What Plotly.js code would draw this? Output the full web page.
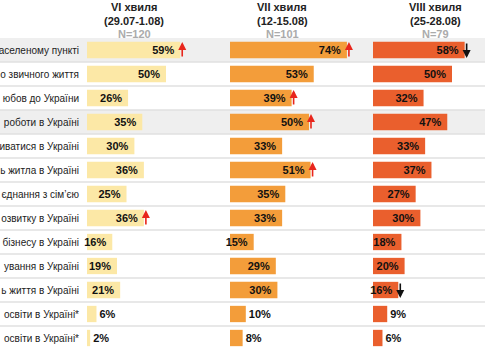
<!DOCTYPE html>
<html><head><meta charset="utf-8">
<script src="https://cdn.plot.ly/plotly-3.0.1.min.js"></script>
<style>html,body{margin:0;padding:0;background:#fff}#chart{width:485px;height:360px}</style>
</head><body><div id="chart"></div>
<script>
// ---- data ----
const categories = [
  'аселеному пункті',
  'о звичного життя',
  'юбов до України',
  'роботи в Україні',
  'иватися в Україні',
  'ь житла в Україні',
  'єднання з сім\u2019єю',
  'озвитку в Україні',
  'бізнесу в Україні',
  'ування в Україні',
  'ь життя в Україні',
  'освіти в Україні*',
  'освіти в Україні*'
];
const waves = ['VI хвиля', 'VII хвиля', 'VIII хвиля'];
const periods = ['(29.07-1.08)', '(12-15.08)', '(25-28.08)'];
const samples = ['N=120', 'N=101', 'N=79'];
const wave6 = [59, 50, 26, 35, 30, 36, 25, 36, 16, 19, 21, 6, 2];
const wave7 = [74, 53, 39, 50, 33, 51, 35, 33, 15, 29, 30, 10, 8];
const wave8 = [58, 50, 32, 47, 33, 37, 27, 30, 18, 20, 16, 9, 6];
const change6 = ['up', '', '', '', '', '', '', 'up', '', '', '', '', ''];
const change7 = ['up', '', 'up', 'up', '', 'up', '', '', '', '', '', '', ''];
const change8 = ['down', '', '', '', '', '', '', '', '', '', 'down', '', ''];

// ---- style / layout ----
const W = 485, H = 360, T = 38, B = 10;
const PX = 1.58; // pixels per percentage point
const cols = [[87, 227], [230, 370], [373, 485]];
const headerX = [134, 282, 435];
const colors = ['#fce8a6', '#f39d3a', '#ea5f2d'];
const highlightRows = [0, 3];
const FONT = 'Liberation Sans, Arial, sans-serif';

const series = [wave6, wave7, wave8];
const changes = [change6, change7, change8];
const idx = categories.map((_, i) => i);
const axName = k => (k === 0 ? 'x' : 'x' + (k + 1));

const traces = series.map((vals, k) => ({
  type: 'bar', orientation: 'h',
  x: vals, y: idx,
  xaxis: axName(k), yaxis: 'y',
  marker: { color: colors[k] },
  texttemplate: '%{x}%\u00a0',
  textposition: vals.map(v => (v < 12 ? 'outside' : 'inside')),
  insidetextanchor: 'end', constraintext: 'none', textangle: 0, cliponaxis: false,
  textfont: { family: FONT, size: 11, color: '#111', weight: 'bold' },
  insidetextfont: { family: FONT, size: 11, color: '#111', weight: 'bold' },
  outsidetextfont: { family: FONT, size: 11, color: '#111', weight: 'bold' },
  hoverinfo: 'skip', showlegend: false
}));

const layout = {
  width: W, height: H,
  margin: { l: 0, r: 0, t: T, b: B },
  paper_bgcolor: '#fff', plot_bgcolor: 'rgba(0,0,0,0)',
  barmode: 'overlay', bargap: 0.32,
  showlegend: false,
  yaxis: {
    range: [categories.length - 0.5, -0.5],
    tickvals: idx, ticktext: categories,
    ticks: 'outside', ticklen: 5, tickcolor: 'rgba(0,0,0,0)',
    tickfont: { family: FONT, size: 10, color: '#222' },
    showgrid: false, zeroline: false, showline: false, fixedrange: true
  },
  shapes: [], annotations: []
};
cols.forEach((c, k) => {
  layout[k === 0 ? 'xaxis' : 'xaxis' + (k + 1)] = {
    domain: [c[0] / W, c[1] / W],
    range: [0, (c[1] - c[0]) / PX],
    anchor: 'y', visible: false, fixedrange: true
  };
});
highlightRows.forEach(i => layout.shapes.push({
  type: 'rect', xref: 'paper', yref: 'y', x0: 0, x1: 1, y0: i - 0.5, y1: i + 0.5,
  fillcolor: '#efefef', line: { width: 0 }, layer: 'below'
}));
for (let i = 0; i < categories.length - 1; i++) {
  layout.shapes.push({
    type: 'line', xref: 'paper', yref: 'y', x0: 0, x1: 1, y0: i + 0.5, y1: i + 0.5,
    line: { color: '#e0e0e0', width: 1.5 }, layer: 'below'
  });
}
waves.forEach((w, k) => {
  const x = headerX[k] / W;
  [[w, 31, '#222'], [periods[k], 17.5, '#222'], [samples[k], 4.5, '#ababab']].forEach(([t, ys, col]) => {
    layout.annotations.push({
      xref: 'paper', yref: 'paper', x: x, y: 1, xanchor: 'center', yanchor: 'middle',
      yshift: ys, text: t, showarrow: false,
      font: { family: FONT, size: 11, color: col, weight: 'bold' }
    });
  });
});
changes.forEach((arr, k) => arr.forEach((d, i) => {
  if (!d) return;
  const up = d === 'up';
  layout.annotations.push({
    xref: axName(k), yref: 'y', x: series[k][i], y: i,
    xshift: 2, yshift: up ? 8 : -8,
    text: '', showarrow: true, ax: 0, ay: up ? 16 : -16,
    arrowhead: 2, arrowsize: 1, arrowwidth: 1.6,
    arrowcolor: up ? '#e8261c' : '#111', standoff: 0, startstandoff: 0
  });
}));

Plotly.newPlot('chart', traces, layout, { displayModeBar: false, staticPlot: true });
</script>
</body></html>
